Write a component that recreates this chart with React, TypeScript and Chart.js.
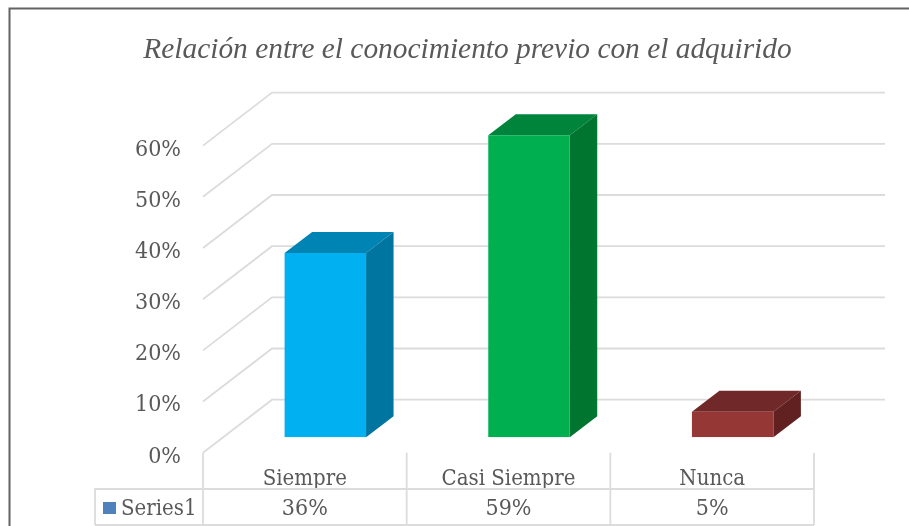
import React, { useEffect, useRef } from "react";
import { Chart, registerables } from "chart.js";

Chart.register(...registerables);

const categories = ["Siempre", "Casi Siempre", "Nunca"];
const values = [0.36, 0.59, 0.05];
const valueLabels = ["36%", "59%", "5%"];
const seriesName = "Series1";
const titleText = "Relación entre el conocimiento previo con el adquirido";
const frontColors = ["#00B0F0", "#00B050", "#953735"];
const topColors = ["#0084B4", "#00843C", "#702928"];
const sideColors = ["#0075A0", "#00752F", "#602120"];

const GRID = "#DCDCDC";
const TEXT = "#595959";
const FONT = "'DejaVu Serif Condensed', 'Liberation Serif', serif";
const WALL_DX = 69;
const WALL_DY = 53;
const BAR_DX = 20.5;
const BAR_DY = 15.4;
const DEPTH_DX = 27.5;
const DEPTH_DY = 21;
const TITLE_SHIFT = 121;

const threeD = {
  id: "threeD",
  afterLayout(chart: any) {
    if (chart.titleBlock) chart.titleBlock.left += TITLE_SHIFT;
  },
  beforeDraw(chart: any) {
    const { ctx, width, height } = chart;
    ctx.save();
    ctx.fillStyle = "#fff";
    ctx.fillRect(0, 0, width, height);
    ctx.restore();
  },
  beforeDatasetsDraw(chart: any) {
    const { ctx, chartArea, scales } = chart;
    ctx.save();
    ctx.strokeStyle = GRID;
    ctx.lineWidth = 1.8;
    for (const t of scales.y.ticks) {
      const p = scales.y.getPixelForValue(t.value);
      ctx.beginPath();
      ctx.moveTo(chartArea.left, p);
      ctx.lineTo(chartArea.left + WALL_DX, p - WALL_DY);
      ctx.lineTo(chartArea.right + WALL_DX + 2, p - WALL_DY);
      ctx.stroke();
    }
    ctx.restore();

    ctx.save();
    const meta = chart.getDatasetMeta(0);
    meta.data.forEach((bar: any, i: number) => {
      const half = bar.width / 2;
      const l = bar.x - half + BAR_DX;
      const r = bar.x + half + BAR_DX;
      const top = bar.y - BAR_DY;
      const bottom = bar.base - BAR_DY;
      ctx.fillStyle = topColors[i];
      ctx.beginPath();
      ctx.moveTo(l, top);
      ctx.lineTo(l + DEPTH_DX, top - DEPTH_DY);
      ctx.lineTo(r + DEPTH_DX, top - DEPTH_DY);
      ctx.lineTo(r, top);
      ctx.closePath();
      ctx.fill();
      ctx.fillStyle = sideColors[i];
      ctx.beginPath();
      ctx.moveTo(r, top);
      ctx.lineTo(r + DEPTH_DX, top - DEPTH_DY);
      ctx.lineTo(r + DEPTH_DX, bottom - DEPTH_DY);
      ctx.lineTo(r, bottom);
      ctx.closePath();
      ctx.fill();
    });
    ctx.restore();

    ctx.save();
    ctx.translate(BAR_DX, -BAR_DY);
  },
  afterDatasetsDraw(chart: any) {
    chart.ctx.restore();
  },
  afterDraw(chart: any) {
    const { ctx, chartArea, scales } = chart;
    const xs = scales.x;
    const cat = (chartArea.right - chartArea.left) / categories.length;
    const rowTop = 489;
    const rowBottom = 525;
    const tableLeft = 95;
    ctx.save();
    ctx.strokeStyle = GRID;
    ctx.lineWidth = 1.8;
    for (let i = 0; i <= categories.length; i++) {
      const x = chartArea.left + i * cat;
      ctx.beginPath();
      ctx.moveTo(x, chartArea.bottom);
      ctx.lineTo(x, rowBottom);
      ctx.stroke();
    }
    ctx.beginPath();
    ctx.moveTo(tableLeft, rowBottom);
    ctx.lineTo(tableLeft, rowTop);
    ctx.lineTo(chartArea.right, rowTop);
    ctx.moveTo(tableLeft, rowBottom);
    ctx.lineTo(chartArea.right, rowBottom);
    ctx.stroke();

    ctx.fillStyle = "#4F81BD";
    ctx.fillRect(103, 502, 13, 12);

    ctx.fillStyle = TEXT;
    ctx.font = `22px ${FONT}`;
    ctx.textBaseline = "alphabetic";
    ctx.textAlign = "left";
    ctx.fillText(seriesName, 121, 515);
    ctx.textAlign = "center";
    ctx.font = `23px ${FONT}`;
    valueLabels.forEach((v, i) => ctx.fillText(v, xs.getPixelForValue(i), 515));

    ctx.strokeStyle = "#636363";
    ctx.lineWidth = 2;
    ctx.beginPath();
    ctx.moveTo(9.5, 530);
    ctx.lineTo(9.5, 8.5);
    ctx.lineTo(912, 8.5);
    ctx.stroke();
    ctx.restore();
  },
};

export default function App() {
  const ref = useRef<HTMLCanvasElement>(null);
  useEffect(() => {
    const chart = new Chart(ref.current!, {
      type: "bar",
      data: {
        labels: categories,
        datasets: [
          {
            label: seriesName,
            data: values,
            backgroundColor: frontColors,
            borderWidth: 0,
            categoryPercentage: 1,
            barPercentage: 0.4,
          },
        ],
      },
      options: {
        responsive: false,
        animation: false,
        layout: { padding: { left: 0, right: 95, top: 0, bottom: 0 } },
        plugins: {
          legend: { display: false },
          tooltip: { enabled: false },
          title: {
            display: true,
            text: titleText,
            color: TEXT,
            font: { family: "'Liberation Serif', serif", size: 29.4, style: "italic", weight: "normal" },
            padding: { top: 33, bottom: 77.35 },
          },
        },
        scales: {
          y: {
            min: 0,
            max: 0.6,
            ticks: {
              stepSize: 0.1,
              color: TEXT,
              padding: 14,
              labelOffset: 4,
              font: { family: FONT, size: 23 },
              callback: (v: any) => `${Math.round(Number(v) * 100)}%`,
            },
            grid: { display: false },
            border: { display: false },
            afterFit: (s: any) => {
              s.width = 203;
            },
          },
          x: {
            ticks: {
              color: TEXT,
              padding: 5,
              maxRotation: 0,
              font: { family: FONT, size: 22 },
            },
            grid: { display: false },
            border: { display: false },
            afterFit: (s: any) => {
              s.height = 73.3;
            },
          },
        },
      },
      plugins: [threeD],
    });
    return () => chart.destroy();
  }, []);
  return (
    <div style={{ position: "fixed", left: 0, top: 0, width: 909, height: 526 }}>
      <canvas ref={ref} width={909} height={526} style={{ display: "block" }} />
    </div>
  );
}
